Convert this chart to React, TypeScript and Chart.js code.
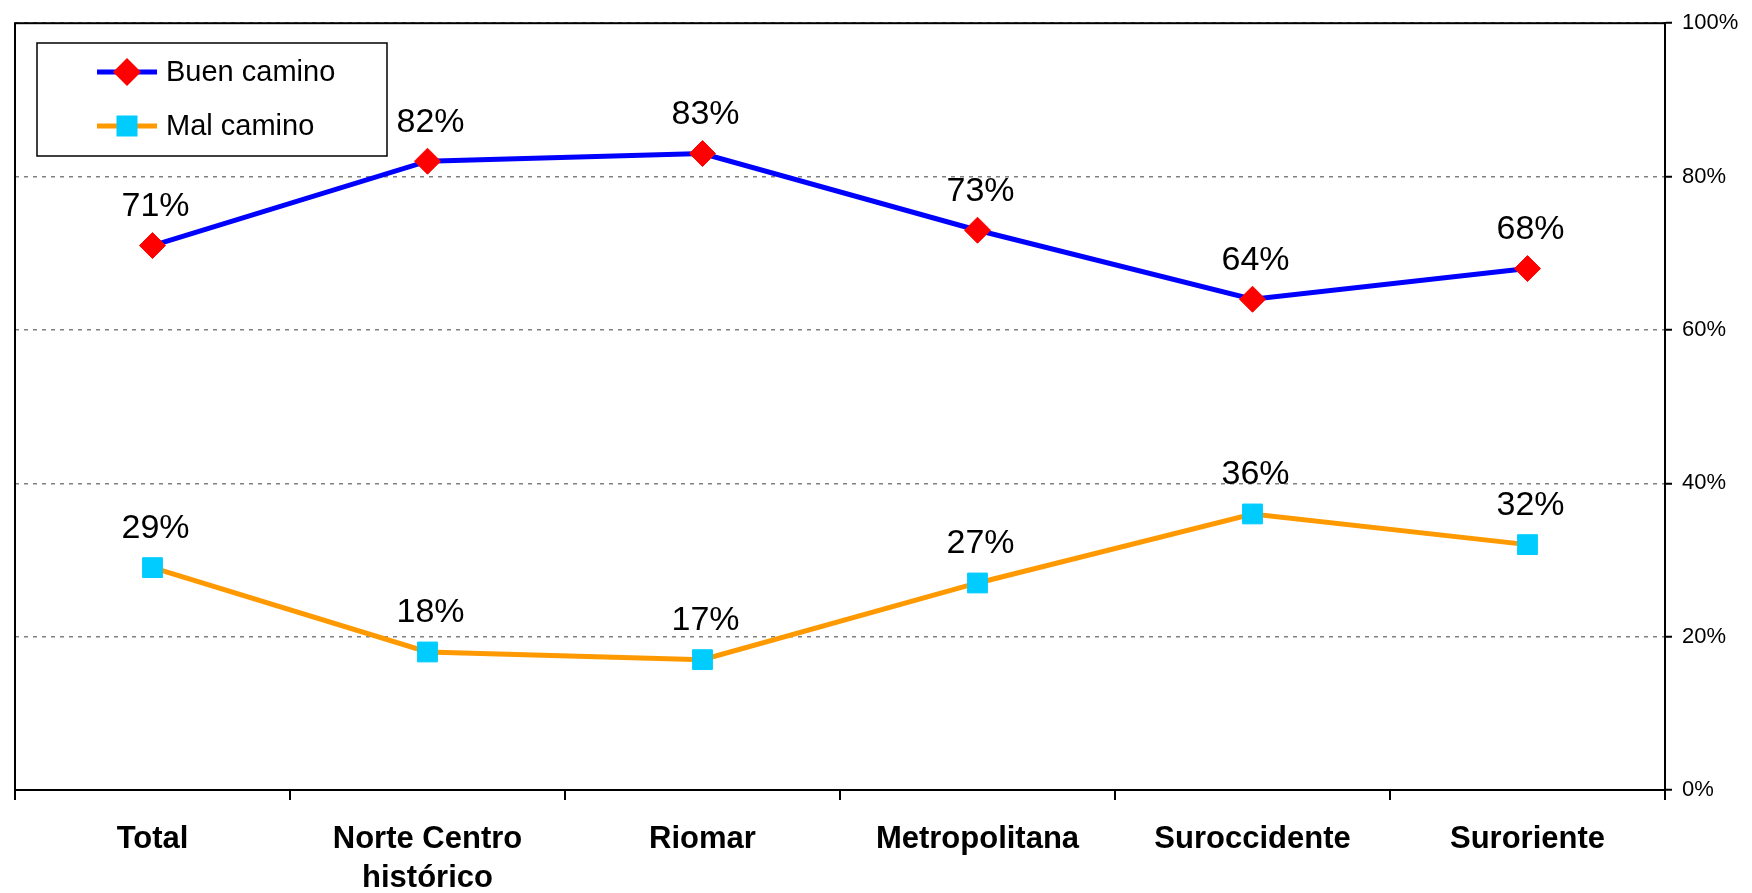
import React, { useEffect, useRef } from 'react';
import { Chart, registerables } from 'chart.js';

Chart.register(...registerables);

const categories: (string | string[])[] = ['Total', ['Norte Centro', 'histórico'], 'Riomar', 'Metropolitana', 'Suroccidente', 'Suroriente'];
const buenCamino = [71, 82, 83, 73, 64, 68];
const malCamino = [29, 18, 17, 27, 36, 32];
const seriesNames = ['Buen camino', 'Mal camino'];
const yTickValues = [0, 20, 40, 60, 80, 100];

const FONT = "'Liberation Sans', Arial, sans-serif";

const framePlugin = {
  id: 'frame',
  beforeDatasetsDraw(chart: any) {
    const { ctx, chartArea } = chart;
    ctx.save();
    ctx.strokeStyle = '#000';
    ctx.lineWidth = 2;
    ctx.strokeRect(chartArea.left, chartArea.top, chartArea.right - chartArea.left, chartArea.bottom - chartArea.top);
    ctx.restore();
  },
};

const dataLabelPlugin = {
  id: 'dataLabels',
  afterDatasetsDraw(chart: any) {
    const { ctx } = chart;
    ctx.save();
    ctx.font = `34px ${FONT}`;
    ctx.fillStyle = '#000';
    ctx.textAlign = 'center';
    ctx.textBaseline = 'middle';
    chart.data.datasets.forEach((ds: any, i: number) => {
      const meta = chart.getDatasetMeta(i);
      meta.data.forEach((pt: any, j: number) => {
        ctx.fillText(`${ds.data[j]}%`, pt.x + 3, pt.y - 39);
      });
    });
    ctx.restore();
  },
};

const legendPlugin = {
  id: 'customLegend',
  afterDraw(chart: any) {
    const { ctx } = chart;
    const bx = 37, by = 43, bw = 350, bh = 113;
    ctx.save();
    ctx.fillStyle = '#fff';
    ctx.fillRect(bx, by, bw, bh);
    ctx.strokeStyle = '#000';
    ctx.lineWidth = 1.5;
    ctx.strokeRect(bx, by, bw, bh);
    const rows = [72, 126];
    chart.data.datasets.forEach((ds: any, i: number) => {
      const y = rows[i];
      ctx.strokeStyle = ds.borderColor;
      ctx.lineWidth = 5;
      ctx.beginPath();
      ctx.moveTo(97, y);
      ctx.lineTo(157, y);
      ctx.stroke();
      ctx.fillStyle = ds.pointBackgroundColor;
      ctx.beginPath();
      if (ds.pointStyle === 'rectRot') {
        const r = 14;
        ctx.moveTo(127 - r, y);
        ctx.lineTo(127, y - r);
        ctx.lineTo(127 + r, y);
        ctx.lineTo(127, y + r);
        ctx.closePath();
      } else {
        const s = 10.5;
        ctx.rect(127 - s, y - s, 2 * s, 2 * s);
      }
      ctx.fill();
      ctx.fillStyle = '#000';
      ctx.font = `29px ${FONT}`;
      ctx.textAlign = 'left';
      ctx.textBaseline = 'middle';
      ctx.fillText(ds.label, 166, y + 1);
    });
    ctx.restore();
  },
};

export default function App() {
  const canvasRef = useRef<HTMLCanvasElement | null>(null);

  useEffect(() => {
    if (!canvasRef.current) return;
    const chart = new Chart(canvasRef.current, {
      type: 'line',
      data: {
        labels: categories as any,
        datasets: [
          {
            label: seriesNames[0],
            data: buenCamino,
            borderColor: '#0000FF',
            borderWidth: 5,
            pointStyle: 'rectRot',
            pointRadius: 13,
            pointHoverRadius: 13,
            pointBackgroundColor: '#FF0000',
            pointBorderColor: '#FF0000',
            pointBorderWidth: 1,
            tension: 0,
            clip: false as any,
          },
          {
            label: seriesNames[1],
            data: malCamino,
            borderColor: '#FF9900',
            borderWidth: 5,
            pointStyle: 'rect',
            pointRadius: 14,
            pointHoverRadius: 14,
            pointBackgroundColor: '#00CCFF',
            pointBorderColor: '#00CCFF',
            pointBorderWidth: 1,
            tension: 0,
            clip: false as any,
          },
        ],
      },
      options: {
        responsive: false,
        animation: false,
        devicePixelRatio: 1,
        layout: { padding: { left: 10, top: 20, right: 0, bottom: 0 } },
        plugins: {
          legend: { display: false },
          tooltip: { enabled: false },
        },
        scales: {
          x: {
            type: 'category',
            offset: true,
            grid: {
              offset: true,
              drawOnChartArea: false,
              drawTicks: true,
              tickLength: 10,
              color: '#000',
              lineWidth: 2,
            },
            border: { display: true, color: '#000', width: 2 },
            ticks: {
              color: '#000',
              font: { family: FONT, size: 31, weight: 'bold', lineHeight: 1.26 },
              padding: 20,
              maxRotation: 0,
              autoSkip: false,
            },
            afterFit(scale: any) {
              scale.height = 103;
            },
          },
          y: {
            position: 'right',
            min: 0,
            max: 100,
            afterBuildTicks(scale: any) {
              scale.ticks = yTickValues.map((v) => ({ value: v }));
            },
            grid: {
              color: '#808080',
              lineWidth: 1.5,
              tickColor: '#000',
              tickWidth: 2,
              tickLength: 7,
              borderDash: [4, 5],
              tickBorderDash: [],
            } as any,
            border: { display: true, color: '#000', width: 2, dash: [4, 5] } as any,
            ticks: {
              color: '#000',
              font: { family: FONT, size: 22 },
              padding: 10,
              callback: (v: any) => `${v}%`,
            },
            afterFit(scale: any) {
              scale.width = 87;
            },
          },
        },
      },
      plugins: [framePlugin, dataLabelPlugin, legendPlugin],
    });
    return () => chart.destroy();
  }, []);

  return (
    <div style={{ position: 'absolute', left: 0, top: 0, width: 1752, height: 893, background: '#fff' }}>
      <canvas ref={canvasRef} width={1752} height={893} />
    </div>
  );
}
